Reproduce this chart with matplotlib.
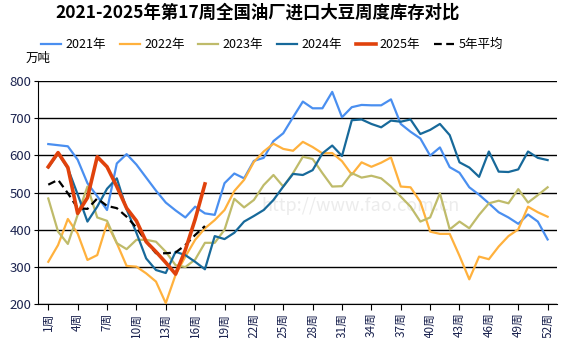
import numpy as np
import matplotlib
matplotlib.use("Agg")
import matplotlib.pyplot as plt

plt.rcParams['font.family'] = ['Noto Sans CJK SC', 'DejaVu Sans']

weeks = list(range(1, 53))

y2021 = [630, 627, 624, 588, 525, 490, 453, 578, 603, 575,
         540, 505, 473, 452, 433, 462, 444, 440, 525, 551,
         538, 585, 593, 638, 659, 702, 744, 726, 726, 770,
         702, 729, 735, 734, 734, 750, 684, 663, 645, 599,
         621, 568, 553, 514, 494, 471, 447, 433, 416, 441,
         422, 374]
y2022 = [314, 359, 429, 390, 319, 332, 417, 364, 303, 301,
         283, 261, 203, 279, 328, 373, 404, 426, 453, 504,
         534, 582, 610, 631, 617, 612, 636, 622, 605, 606,
         584, 548, 581, 569, 580, 594, 516, 514, 475, 395,
         389, 389, 330, 267, 328, 321, 355, 383, 401, 462,
         447, 435]
y2023 = [484, 395, 362, 440, 516, 433, 424, 364, 348, 373,
         373, 368, 341, 305, 300, 320, 365, 365, 400, 483,
         460, 480, 520, 547, 516, 552, 596, 590, 552, 516,
         517, 552, 540, 545, 538, 516, 489, 462, 422, 433,
         498, 401, 422, 404, 440, 471, 478, 471, 509, 473,
         493, 514]
y2024 = [567, 605, 565, 495, 422, 462, 510, 538, 455, 392,
         323, 292, 284, 341, 332, 314, 294, 383, 375, 392,
         422, 437, 453, 480, 516, 550, 547, 560, 605, 626,
         598, 694, 696, 684, 675, 693, 690, 696, 657, 668,
         684, 654, 581, 567, 542, 610, 556, 555, 562, 610,
         593, 587]
y2025 = [569, 607, 567, 444, 486, 596, 569, 516, 458, 424,
         368, 341, 312, 281, 346, 428, 523]
avg5 = [521, 534, 498, 458, 456, 484, 464, 458, 435, 406,
        368, 337, 337, 339, 359, 386, 410]

tick_weeks = list(range(1, 53, 3))
tick_labels = [f"{w}周" for w in tick_weeks]

fig = plt.figure(figsize=(5.61, 3.38), dpi=100)
ax = fig.add_axes([0.0686, 0.0997, 0.925, 0.6615])

# faint watermark
ax.text(0.62, 0.44, "http://www.fao.com.cn", transform=ax.transAxes,
        fontsize=13, color='#ececec', ha='center', va='center', zorder=0)

ax.plot(weeks, y2021, color='#4a8ff0', lw=1.6, label='2021年', zorder=3)
ax.plot(weeks, y2022, color='#ffb13d', lw=1.6, label='2022年', zorder=3)
ax.plot(weeks, y2023, color='#bfbb6a', lw=1.6, label='2023年', zorder=3)
ax.plot(weeks, y2024, color='#17699a', lw=1.6, label='2024年', zorder=3)
ax.plot(weeks[:len(y2025)], y2025, color='#e0420c', lw=2.6, label='2025年', zorder=5)
ax.plot(weeks[:len(avg5)], avg5, color='black', lw=1.6, ls=(0, (3.5, 2)),
        label='5年平均', zorder=4)

ax.set_xlim(0, 53)
ax.set_ylim(200, 800)
ax.set_yticks(range(200, 801, 100))
ax.set_xticks(tick_weeks)
ax.set_xticklabels(tick_labels, rotation=90)
ax.grid(axis='y', color='black', lw=1)
ax.set_axisbelow(True)
for s in ['top', 'right']:
    ax.spines[s].set_visible(False)
ax.spines['left'].set_color('black')
ax.spines['bottom'].set_color('black')
ax.tick_params(axis='y', labelsize=9.5, colors='black', labelcolor='#1c2450',
               length=3, pad=2)
ax.tick_params(axis='x', labelsize=8.5, colors='black', labelcolor='#1c2450',
               length=4, pad=2)

fig.text(0.46, 0.962, "2021-2025年第17周全国油厂进口大豆周度库存对比",
         ha='center', va='center', fontsize=12.5, fontweight='bold')
fig.text(0.045, 0.828, "万吨", ha='left', va='center', fontsize=9)

fig.legend(loc='center', bbox_to_anchor=(0.485, 0.867), ncol=6, frameon=False,
           fontsize=9, handlelength=1.6, columnspacing=1.1, handletextpad=0.35)

fig.savefig("out.png", dpi=100)
